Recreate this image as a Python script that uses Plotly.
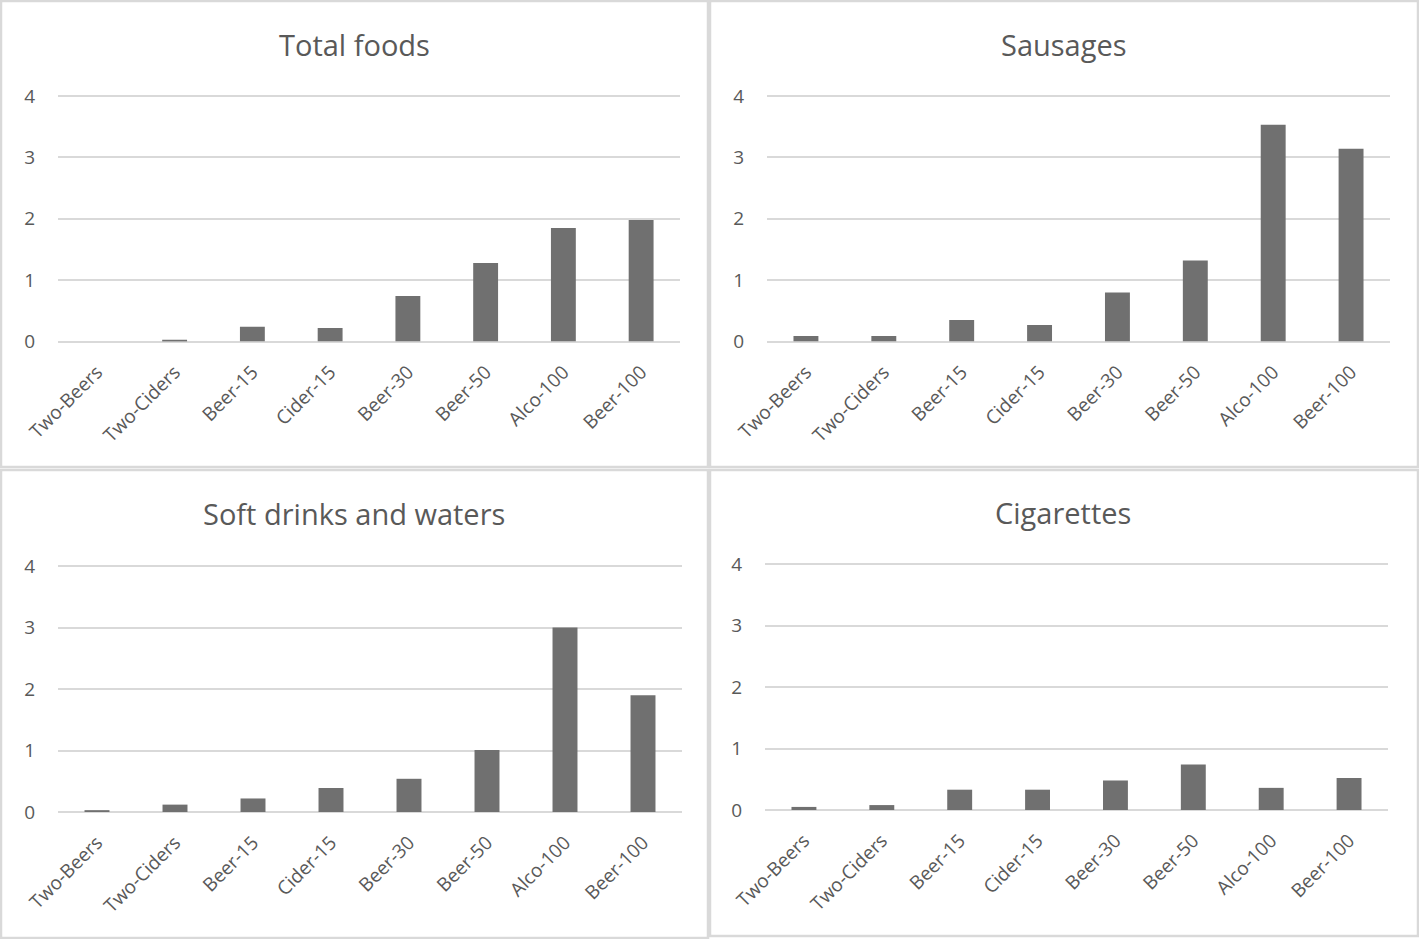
import plotly.graph_objects as go

categories = ["Two-Beers", "Two-Ciders", "Beer-15", "Cider-15", "Beer-30", "Beer-50", "Alco-100", "Beer-100"]
total_foods = [0.0, 0.03, 0.24, 0.22, 0.74, 1.28, 1.85, 1.98]
sausages = [0.09, 0.09, 0.35, 0.27, 0.80, 1.32, 3.53, 3.14]
soft_drinks = [0.03, 0.12, 0.22, 0.39, 0.54, 1.01, 3.00, 1.90]
cigarettes = [0.05, 0.08, 0.33, 0.33, 0.48, 0.74, 0.36, 0.52]
titles = ["Total foods", "Sausages", "Soft drinks and waters", "Cigarettes"]
series = [total_foods, sausages, soft_drinks, cigarettes]
y_ticks = [0, 1, 2, 3, 4]

W, H = 1419, 939
FONT = "Open Sans"
TXT = "#595959"
GRID = "#d9d9d9"
BAR = "#707070"
YMAX = 4.02

# pixel layouts: (plot x0, x1, y at 4, y at 0), panel borders, title pos
plots = [(58, 680, 96, 341.5), (767, 1390, 96, 341.5), (58, 682, 566, 812), (765, 1388, 564, 810)]
borders = [(1, 1, 708, 467), (710, 1, 1418, 467), (1, 470, 708, 938), (710, 470, 1418, 936)]
title_pos = [(354, 44), (1064, 44), (354, 513), (1063, 512)]

fig = go.Figure()
for i, (vals, (x0, x1, y4, yz)) in enumerate(zip(series, plots)):
    n = "" if i == 0 else str(i + 1)
    ytop = yz - (yz - y4) * YMAX / 4
    fig.add_trace(go.Bar(x=categories, y=vals, marker=dict(color=BAR, line=dict(width=0)),
                         xaxis="x" + n, yaxis="y" + n, showlegend=False, width=0.32,
                         hoverinfo="x+y"))
    fig.update_layout(**{
        "xaxis" + n: dict(domain=[x0 / W, x1 / W], anchor="y" + n, tickangle=-45,
                          tickfont=dict(family=FONT, size=19, color=TXT), showgrid=False,
                          showline=False, zeroline=False, ticks="outside", ticklen=11,
                          tickcolor="rgba(0,0,0,0)", automargin=False, fixedrange=True),
        "yaxis" + n: dict(domain=[1 - yz / H, 1 - ytop / H], anchor="x" + n, range=[0, YMAX],
                          tickvals=y_ticks, tickfont=dict(family=FONT, size=19, color=TXT),
                          showgrid=True, gridcolor=GRID, gridwidth=2, zeroline=True,
                          zerolinecolor=GRID, zerolinewidth=2, showline=False,
                          ticks="outside", ticklen=18, tickcolor="rgba(0,0,0,0)",
                          automargin=False, fixedrange=True),
    })

shapes = []
for (bx0, by0, bx1, by1) in borders:
    shapes.append(dict(type="rect", xref="paper", yref="paper", x0=bx0 / W, x1=bx1 / W,
                       y0=1 - by1 / H, y1=1 - by0 / H, line=dict(color=GRID, width=2.5)))
annotations = []
for t, (tx, ty) in zip(titles, title_pos):
    annotations.append(dict(text=t, x=tx / W, y=1 - ty / H, xref="paper", yref="paper",
                            showarrow=False, xanchor="center", yanchor="middle",
                            font=dict(family=FONT, size=29, color=TXT)))

fig.update_layout(template="none", width=W, height=H, margin=dict(l=0, r=0, t=0, b=0, autoexpand=False),
                  paper_bgcolor="white", plot_bgcolor="white", bargap=0.68, showlegend=False,
                  shapes=shapes, annotations=annotations)
fig.write_html("out.html", config={"displayModeBar": False},
               post_script="document.body.style.margin='0px';document.body.style.overflow='hidden';")
